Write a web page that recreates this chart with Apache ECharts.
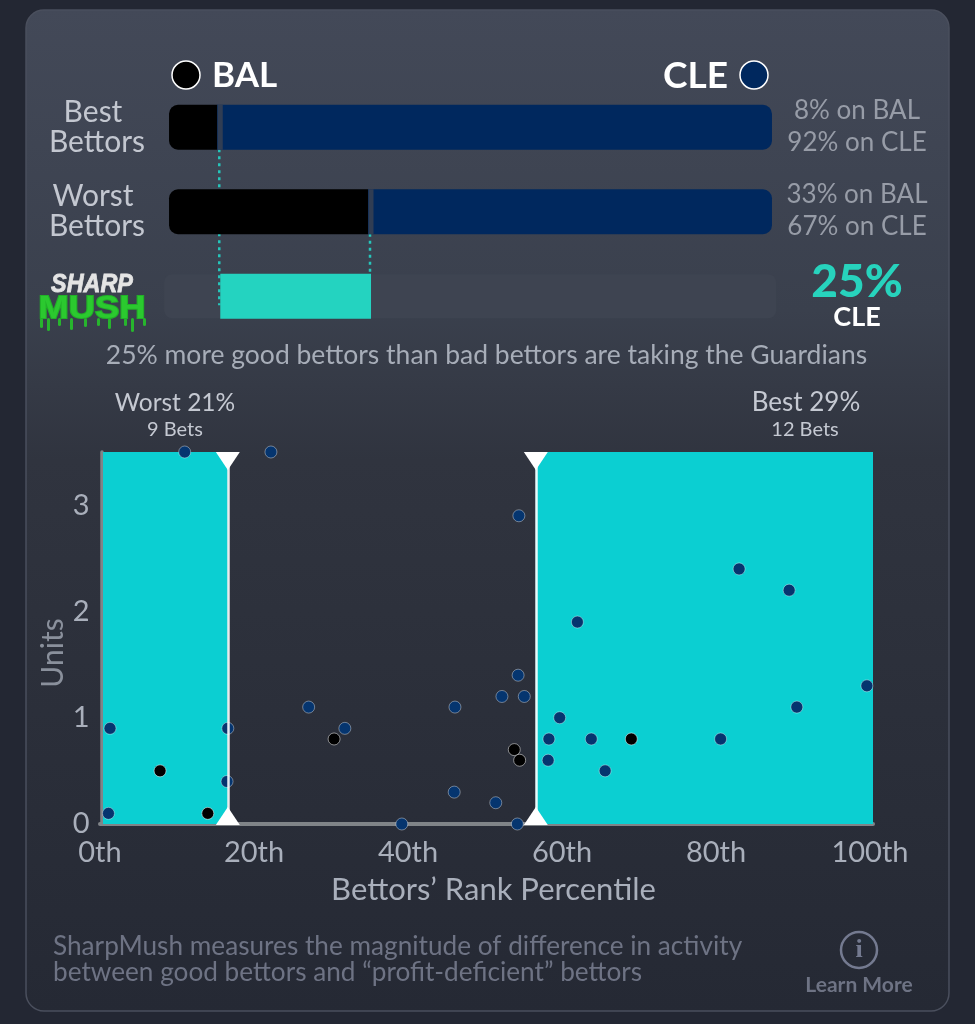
<!DOCTYPE html>
<html>
<head>
<meta charset="utf-8">
<style>
  html, body { margin: 0; padding: 0; background: #232733; }
  #chart { width: 975px; height: 1024px; }
</style>
<script src="https://cdn.jsdelivr.net/npm/echarts@6/dist/echarts.min.js"></script>
</head>
<body>
<div id="chart"></div>
<script>
const rows = ["Best Bettors", "Worst Bettors", "SharpMush"];
const balShare = [8, 33, null];
const cleShare = [92, 67, null];
const mushStart = [null, null, 8.5];
const mushValue = [null, null, 25];

const xTicks = [0, 20, 40, 60, 80, 100];
const worstCut = 16.6;
const bestCut = 56.6;

// bets on CLE: [rank percentile, units]
const clePoints = [
  [11, 3.5], [22.2, 3.5], [54.4, 2.9], [83, 2.4], [89.5, 2.2], [62, 1.9],
  [54.3, 1.4], [99.6, 1.3], [52.2, 1.2], [55.1, 1.2], [27.1, 1.1], [46.1, 1.1],
  [90.5, 1.1], [59.7, 1], [1.3, 0.9], [16.6, 0.9], [31.8, 0.9], [58.3, 0.8],
  [63.8, 0.8], [80.6, 0.8], [58.2, 0.6], [65.6, 0.5], [16.5, 0.4], [46, 0.3],
  [51.4, 0.2], [1.1, 0.1], [39.2, 0], [54.2, 0]
];
// bets on BAL
const balPoints = [
  [30.4, 0.8], [69, 0.8], [53.8, 0.7], [54.5, 0.6], [7.8, 0.5], [14, 0.1]
];

const FONT = "Lato, 'Noto Sans', sans-serif";

function label(text, x, y, size, fill, weight, align) {
  return {
    type: "text",
    z: 10,
    style: {
      text, x, y, fill,
      align: align || "center",
      verticalAlign: "middle",
      font: `${weight || 400} ${size}px ${FONT}`,
    },
  };
}

// the little green drips under the logo
const drips = [[40, 10], [47, 13], [58, 8], [70, 12], [84, 9], [97, 8], [108, 11], [124, 8], [131, 14], [143, 8]];

const graphics = [
  {
    type: "rect", z: -1,
    shape: { x: 26, y: 10, width: 923, height: 1001, r: 18 },
    style: {
      stroke: "#4a4f5d", lineWidth: 1.5,
      fill: new echarts.graphic.LinearGradient(0, 0, 0, 1, [
        { offset: 0, color: "#434958" },
        { offset: 0.3, color: "#3a404d" },
        { offset: 0.45, color: "#30343f" },
        { offset: 1, color: "#252934" },
      ]),
    },
  },
  { type: "circle", shape: { cx: 186, cy: 75, r: 14 }, style: { fill: "#000", stroke: "#fff", lineWidth: 1.5 } },
  { type: "circle", shape: { cx: 754, cy: 75, r: 14 }, style: { fill: "#00285e", stroke: "#fff", lineWidth: 1.5 } },
  label("BAL", 212, 76, 35, "#fff", 700, "left"),
  label("CLE", 728, 76, 37, "#fff", 700, "right"),
  label("Best", 93, 112, 30, "#c3c7d0"),
  label("Bettors", 97, 142, 30, "#c3c7d0"),
  label("Worst", 93, 196, 30, "#c3c7d0"),
  label("Bettors", 97, 226, 30, "#c3c7d0"),
  label("8% on BAL", 857, 111, 26, "#979ca7"),
  label("92% on CLE", 857, 143, 26, "#979ca7"),
  label("33% on BAL", 857, 195, 26, "#979ca7"),
  label("67% on CLE", 857, 227, 26, "#979ca7"),
  label("25%", 857, 282, 46, "#27d3bd", 900),
  label("CLE", 857, 317, 27, "#fff", 700),
  label("25% more good bettors than bad bettors are taking the Guardians", 486.5, 355, 26.5, "#a7adb8"),
  label("Worst 21%", 175, 403, 24.5, "#c5c9d2"),
  label("9 Bets", 175, 430, 20, "#c5c9d2"),
  label("Best 29%", 806, 403, 26, "#c5c9d2"),
  label("12 Bets", 805, 430, 20, "#c5c9d2"),
  label("SharpMush measures the magnitude of difference in activity", 53, 947, 26.2, "#6e7384", 400, "left"),
  label("between good bettors and “profit-deficient” bettors", 53, 973, 26.2, "#6e7384", 400, "left"),
  { type: "circle", shape: { cx: 859, cy: 950, r: 18 }, style: { fill: "none", stroke: "#747a90", lineWidth: 2.5 } },
  {
    type: "text", z: 10,
    style: {
      text: "i", x: 859, y: 950, fill: "#747a90", align: "center", verticalAlign: "middle",
      font: "700 26px 'Liberation Serif', serif",
    },
  },
  label("Learn More", 859, 985, 21, "#6e7384", 700),
  {
    type: "text", z: 10, scaleX: 0.9, originX: 92,
    style: {
      text: "SHARP", x: 92, y: 285, fill: "#e4e4e4", stroke: "#e4e4e4", lineWidth: 0.8,
      align: "center", verticalAlign: "middle",
      font: "italic 900 26px 'Liberation Sans', sans-serif",
    },
  },
  ...drips.map(([x, h]) => ({
    type: "rect", z: 9,
    shape: { x, y: 318, width: 3, height: h, r: 1.5 },
    style: { fill: "#27b52d" },
  })),
  {
    type: "text", z: 10, scaleX: 1.17, originX: 92,
    style: {
      text: "MUSH", x: 92, y: 309, fill: "#2bc92f", stroke: "#22b028", lineWidth: 2,
      align: "center", verticalAlign: "middle",
      font: "900 31px 'Liberation Sans', sans-serif",
    },
  },
];

const chart = echarts.init(document.getElementById("chart"), null, { renderer: "canvas" });

chart.setOption({
  animation: false,
  backgroundColor: "#232733",
  textStyle: { fontFamily: FONT },
  graphic: graphics,
  grid: [
    { left: 163, top: 85, width: 615, height: 253.5 },
    { left: 100, top: 452, width: 773, height: 372 },
  ],
  xAxis: [
    { gridIndex: 0, type: "value", min: -1, max: 101, show: false },
    {
      gridIndex: 1, type: "value", min: 0, max: 100.39,
      name: "Bettors’ Rank Percentile",
      nameLocation: "middle",
      nameGap: 50,
      nameTextStyle: { color: "#a9afbb", fontSize: 31, padding: [0, 0, 0, 14] },
      axisLine: { lineStyle: { color: "#808488", width: 4 } },
      axisTick: { show: false },
      splitLine: { show: false },
      axisLabel: {
        customValues: xTicks,
        formatter: v => `${v}th`,
        color: "#a9afbb",
        fontSize: 29,
        margin: 14,
      },
    },
  ],
  yAxis: [
    { gridIndex: 0, type: "category", data: rows, inverse: true, show: false },
    {
      gridIndex: 1, type: "value", min: 0, max: 3.5, interval: 1,
      offset: -1.5,
      name: "Units",
      nameLocation: "middle",
      nameGap: 33,
      nameMoveOverlap: false,
      nameTextStyle: { color: "#8a909c", fontSize: 30, padding: [0, 30, 0, 0] },
      axisLine: { show: true, lineStyle: { color: "#808488", width: 3.5 } },
      axisTick: { show: false },
      splitLine: { show: false },
      axisLabel: { showMaxLabel: false, color: "#a9afbb", fontSize: 29, margin: 12 },
    },
  ],
  series: [
    {
      // empty track behind the teal bar
      type: "custom", xAxisIndex: 0, yAxisIndex: 0, z: 1,
      data: [[-0.8, 100.7, 2]],
      encode: { x: [0, 1], y: 2 },
      renderItem: (params, api) => {
        const a = api.coord([api.value(0), api.value(2)]);
        const b = api.coord([api.value(1), api.value(2)]);
        return {
          type: "rect",
          shape: { x: a[0], y: a[1] - 22, width: b[0] - a[0], height: 44, r: 8 },
          style: { fill: "#3e4451" },
        };
      },
    },
    {
      // dotted connectors from the bar splits down to the teal bar
      type: "custom", xAxisIndex: 0, yAxisIndex: 0, z: 1,
      data: [[8, 0], [33, 1]],
      encode: { x: 0, y: 1 },
      renderItem: (params, api) => {
        const row = api.value(1);
        const top = api.coord([api.value(0), row]);
        const end = api.coord([api.value(0), 2]);
        return {
          type: "line",
          shape: { x1: top[0] + 2, y1: top[1] + 22, x2: top[0] + 2, y2: end[1] + (row === 0 ? 9 : -22) },
          style: { stroke: "#26c6bb", lineWidth: 2.5, lineDash: [3, 4] },
        };
      },
    },
    {
      name: "BAL", type: "bar", stack: "share", xAxisIndex: 0, yAxisIndex: 0, z: 2,
      barWidth: 45, data: balShare,
      itemStyle: { color: "#000", borderRadius: [9, 0, 0, 9] },
    },
    {
      name: "CLE", type: "bar", stack: "share", xAxisIndex: 0, yAxisIndex: 0, z: 2,
      barWidth: 45, data: cleShare,
      itemStyle: { color: "#00285e", borderRadius: [0, 9, 9, 0] },
    },
    {
      type: "bar", stack: "share", xAxisIndex: 0, yAxisIndex: 0, z: 2,
      barWidth: 45, data: mushStart,
      itemStyle: { color: "transparent" },
    },
    {
      name: "SharpMush", type: "bar", stack: "share", xAxisIndex: 0, yAxisIndex: 0, z: 2,
      barWidth: 45, data: mushValue,
      itemStyle: { color: "#24d3c0" },
    },
    {
      // thin split between the two team colours
      type: "scatter", xAxisIndex: 0, yAxisIndex: 0, z: 3,
      symbol: "rect", symbolSize: [5, 45], symbolOffset: [3, 0],
      data: [[balShare[0], 0], [balShare[1], 1]],
      itemStyle: { color: "#3c4250" },
    },
    {
      // shaded worst / best zones, under the dots
      type: "scatter", xAxisIndex: 1, yAxisIndex: 1, z: 3,
      data: [],
      markArea: {
        silent: true,
        itemStyle: { color: "#0bcfd2" },
        data: [
          [{ xAxis: 0.39 }, { xAxis: worstCut }],
          [{ xAxis: bestCut }, { xAxis: 100.39 }],
        ],
      },
    },
    {
      name: "CLE bets", type: "scatter", xAxisIndex: 1, yAxisIndex: 1, z: 5,
      clip: false, symbolSize: 12, data: clePoints,
      itemStyle: { color: "#05356f", borderColor: "rgba(255,255,255,0.38)", borderWidth: 1, opacity: 1 },
    },
    {
      name: "BAL bets", type: "scatter", xAxisIndex: 1, yAxisIndex: 1, z: 5,
      clip: false, symbolSize: 12, data: balPoints,
      itemStyle: { color: "#000", borderColor: "rgba(255,255,255,0.5)", borderWidth: 1, opacity: 1 },
    },
    {
      // cut lines and handles sit on top of the dots
      type: "scatter", xAxisIndex: 1, yAxisIndex: 1, z: 6,
      data: [],
      markLine: {
        z: 7,
        silent: true,
        symbol: "none",
        label: { show: false },
        lineStyle: { color: "#fff", width: 2.5, type: "solid", opacity: 0.9 },
        data: [{ xAxis: worstCut }, { xAxis: bestCut }],
      },
      markPoint: {
        z: 7,
        silent: true,
        symbol: "triangle",
        symbolSize: [24, 18],
        label: { show: false },
        itemStyle: { color: "#fff" },
        data: [
          { coord: [worstCut, 3.5], symbolRotate: 180, symbolOffset: [0, 9] },
          { coord: [bestCut, 3.5], symbolRotate: 180, symbolOffset: [0, 9] },
          { coord: [worstCut, 0], symbolOffset: [0, -8] },
          { coord: [bestCut, 0], symbolOffset: [0, -8] },
        ],
      },
    },
  ],
});

window.addEventListener("resize", () => chart.resize());
</script>
</body>
</html>
